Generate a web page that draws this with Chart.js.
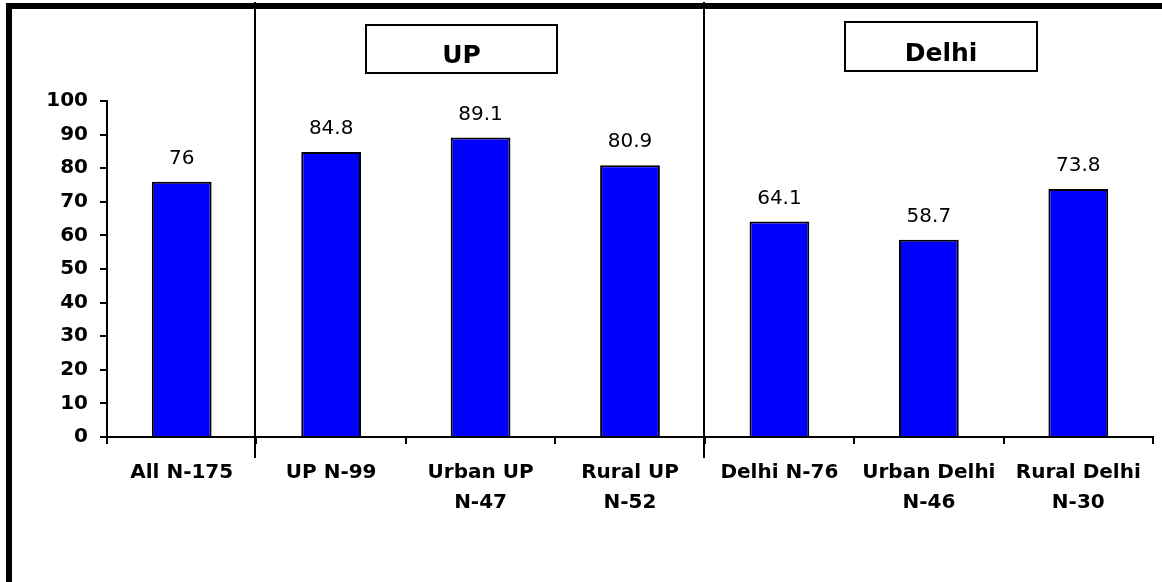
<!DOCTYPE html>
<html>
<head>
<meta charset="utf-8">
<script src="https://cdn.jsdelivr.net/npm/chart.js@4"></script>
<style>
  body { margin: 0; background: #fff; }
  canvas { display: block; }
</style>
</head>
<body>
<canvas id="pctChart" width="1162" height="582"></canvas>
<script>
const categories = [
  "All N-175",
  "UP N-99",
  ["Urban UP", "N-47"],
  ["Rural UP", "N-52"],
  "Delhi N-76",
  ["Urban Delhi", "N-46"],
  ["Rural Delhi", "N-30"],
];
const percentValues = [76, 84.8, 89.1, 80.9, 64.1, 58.7, 73.8];
const groupNames = ["UP", "Delhi"];

// frame, separators between groups and the group name boxes
const decorations = {
  id: "decorations",
  afterDraw(chart) {
    const ctx = chart.ctx;
    const x = chart.scales.x;
    ctx.save();
    ctx.fillStyle = "#000";
    ctx.fillRect(6, 3, 1156, 6);
    ctx.fillRect(6, 3, 6, 579);

    ctx.strokeStyle = "#000";
    ctx.lineWidth = 2;
    [0, 3].forEach((i) => {
      const sx = Math.round((x.getPixelForValue(i) + x.getPixelForValue(i + 1)) / 2) - 1;
      ctx.beginPath();
      ctx.moveTo(sx, 2);
      ctx.lineTo(sx, 458);
      ctx.stroke();
    });

    const boxes = [
      { x: 366, y: 25, w: 191, h: 48 },
      { x: 845, y: 22, w: 192, h: 49 },
    ];
    ctx.font = "bold 25px 'DejaVu Sans'";
    ctx.textAlign = "center";
    ctx.textBaseline = "alphabetic";
    boxes.forEach((b, i) => {
      ctx.fillStyle = "#fff";
      ctx.fillRect(b.x, b.y, b.w, b.h);
      ctx.strokeRect(b.x, b.y, b.w, b.h);
      ctx.fillStyle = "#000";
      ctx.fillText(groupNames[i], b.x + b.w / 2, b.y + b.h - 10);
    });
    ctx.restore();
  },
};

const valueLabels = {
  id: "valueLabels",
  afterDatasetsDraw(chart) {
    const ctx = chart.ctx;
    const meta = chart.getDatasetMeta(0);
    ctx.save();
    ctx.font = "20px 'DejaVu Sans'";
    ctx.fillStyle = "#000";
    ctx.textAlign = "center";
    ctx.textBaseline = "alphabetic";
    meta.data.forEach((bar, i) => {
      ctx.fillText(String(percentValues[i]), bar.x, bar.y - 18);
    });
    ctx.restore();
  },
};

const ctx = document.getElementById("pctChart").getContext("2d");
const pctChart = new Chart(ctx, {
  type: "bar",
  data: {
    labels: categories,
    datasets: [
      {
        data: percentValues,
        backgroundColor: "#0000ff",
        borderColor: "#000",
        borderWidth: 2,
        categoryPercentage: 1,
        barPercentage: 0.4,
      },
    ],
  },
  options: {
    responsive: false,
    animation: false,
    layout: { padding: { top: 101, right: 9, left: 20, bottom: 0 } },
    plugins: {
      legend: { display: false },
      tooltip: { enabled: false },
    },
    scales: {
      x: {
        grid: {
          drawOnChartArea: false,
          drawTicks: true,
          tickLength: 7,
          color: "#000",
          lineWidth: 2,
        },
        border: { color: "#000", width: 2 },
        ticks: {
          color: "#000",
          padding: 14,
          maxRotation: 0,
          autoSkip: false,
          font: { family: "DejaVu Sans", size: 20, weight: "bold", lineHeight: 1.5 },
        },
        afterFit(scale) {
          scale.height = 145;
        },
      },
      y: {
        min: 0,
        max: 100,
        grid: {
          drawOnChartArea: false,
          drawTicks: true,
          tickLength: 7,
          color: "#000",
          lineWidth: 2,
        },
        border: { color: "#000", width: 2 },
        ticks: {
          stepSize: 10,
          color: "#000",
          padding: 12,
          font: { family: "DejaVu Sans", size: 20, weight: "bold" },
        },
        afterFit(scale) {
          scale.width = 87;
        },
      },
    },
  },
  plugins: [valueLabels, decorations],
});
</script>
</body>
</html>
